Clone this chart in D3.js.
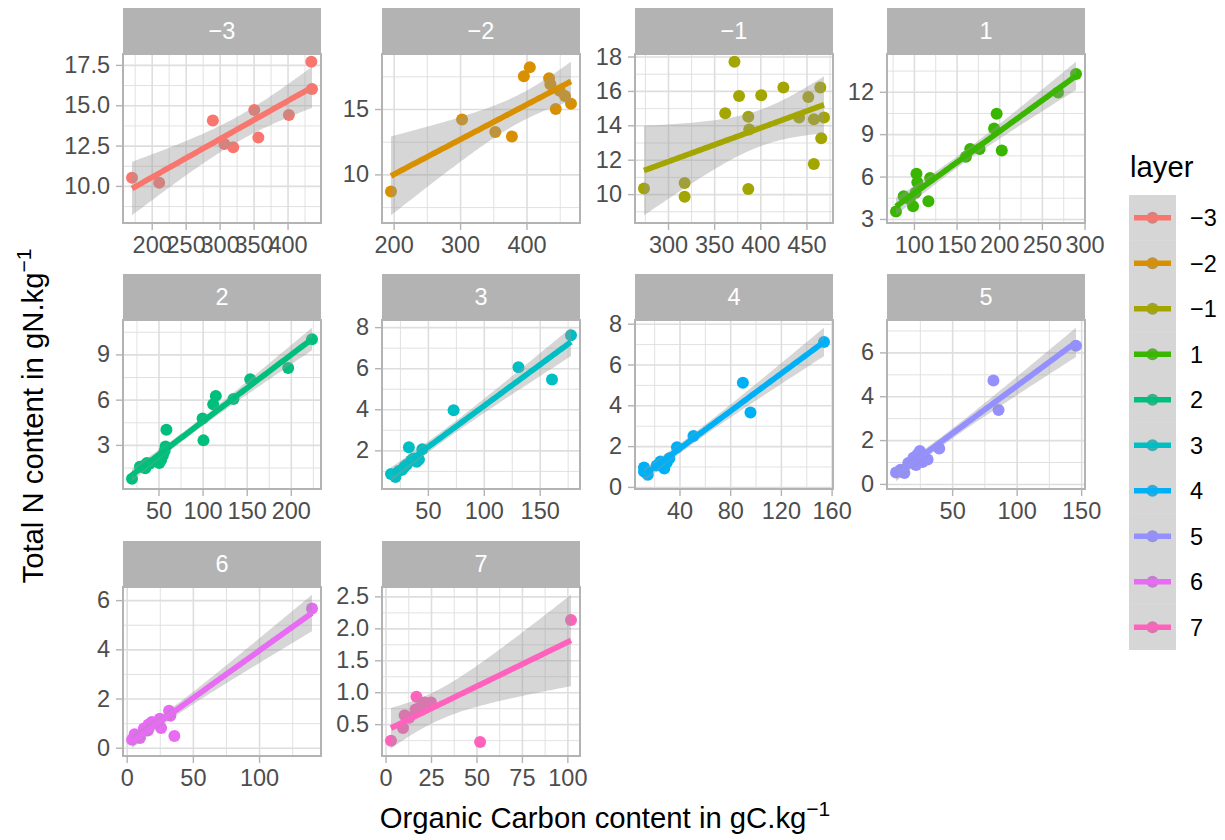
<!DOCTYPE html>
<html><head><meta charset="utf-8">
<script src="https://cdn.jsdelivr.net/npm/d3@7"></script>
<style>
body{margin:0;background:#fff;}
text{font-family:"Liberation Sans", Arial, Helvetica, sans-serif;}
</style>
</head><body>
<svg id="chart" width="1225" height="840"></svg>
<script>
// ---------------- data ----------------
const layers = ["\u22123","\u22122","\u22121","1","2","3","4","5","6","7"];
const colors = ["#F8766D","#D89000","#A3A500","#39B600","#00BF7D","#00BFC4","#00B0F6","#9590FF","#E76BF3","#FF62BC"];

const oc_m3 = [171, 211, 290, 307, 320, 351, 357, 402, 435, 436];
const tn_m3 = [10.5, 10.2, 14.05, 12.6, 12.4, 14.7, 13.0, 14.4, 17.7, 16.0];
const oc_m2 = [196, 303, 353, 378, 396, 405, 434, 436, 444, 450, 458, 467];
const tn_m2 = [8.7, 14.2, 13.25, 12.9, 17.5, 18.2, 17.35, 16.9, 15.0, 16.4, 16.0, 15.4];
const oc_m1 = [274, 318, 318, 362, 372, 377, 387, 388, 387, 401, 425, 442, 452, 458, 458, 465, 466, 469];
const tn_m1 = [10.33, 10.65, 9.85, 14.7, 17.7, 15.7, 14.5, 13.75, 10.3, 15.75, 16.2, 14.45, 15.65, 14.35, 11.75, 16.2, 13.25, 14.45];
const oc_p1 = [79, 88, 95, 99, 102, 103, 104, 117, 119, 161, 166, 177, 194, 197, 203, 269, 290];
const tn_p1 = [3.53, 4.6, 4.4, 3.9, 4.85, 6.2, 5.6, 4.25, 5.9, 7.4, 7.95, 7.95, 9.4, 10.45, 7.85, 11.95, 13.25];
const oc_p2 = [20, 29, 33, 35, 37, 40, 51, 53, 55, 57, 58, 59, 100, 101, 112, 115, 135, 154, 197, 224];
const tn_p2 = [0.75, 1.55, 1.6, 1.45, 1.8, 1.75, 1.8, 2.0, 2.3, 2.6, 2.9, 4.0, 4.75, 3.3, 5.7, 6.25, 6.05, 7.35, 8.1, 10.0];
const oc_p3 = [17, 21, 24, 27, 29, 31, 33, 35, 37, 40, 42, 45, 73, 131, 161, 178];
const tn_p3 = [0.85, 0.7, 1.0, 1.05, 1.2, 1.3, 2.15, 1.5, 1.6, 1.45, 1.55, 2.05, 3.95, 6.05, 5.45, 7.6];
const oc_p4 = [12, 12, 15, 22, 25, 27, 28, 30, 32, 38, 51, 90, 96, 154];
const tn_p4 = [0.95, 0.75, 0.6, 1.05, 1.25, 1.1, 0.9, 1.2, 1.4, 1.95, 2.5, 5.1, 3.65, 7.1];
const oc_p5 = [6.5, 10, 13, 16, 20, 22, 23, 25, 27, 28, 31, 40, 82, 86, 146];
const tn_p5 = [0.52, 0.65, 0.5, 0.95, 1.19, 0.86, 1.33, 1.5, 1.0, 1.19, 1.11, 1.62, 4.72, 3.37, 6.3];
const oc_p6 = [4, 6, 10, 13, 16, 16.5, 19, 25, 26, 32, 33, 36, 140];
const tn_p6 = [0.32, 0.55, 0.4, 0.78, 0.7, 0.94, 1.05, 1.18, 0.8, 1.5, 1.3, 0.48, 5.66];
const oc_p7 = [3, 9.6, 10.5, 13, 16.5, 17, 19, 21.5, 25, 52, 102];
const tn_p7 = [0.24, 0.44, 0.64, 0.6, 0.73, 0.93, 0.76, 0.84, 0.84, 0.22, 2.13];

const xTicks = [[200,250,300,350,400],[200,300,400],[300,350,400,450],[100,150,200,250,300],
                [50,100,150,200],[50,100,150],[40,80,120,160],[50,100,150],[0,50,100],[0,25,50,75,100]];
const yTicks = [[10,12.5,15,17.5],[10,15],[10,12,14,16,18],[3,6,9,12],[3,6,9],[2,4,6,8],
                [0,2,4,6,8],[0,2,4,6],[0,2,4,6],[0.5,1,1.5,2,2.5]];

const xTitle = "Organic Carbon content in gC.kg";
const yTitle = "Total N content in gN.kg";
const titleSup = "\u22121";
const legendTitle = "layer";

const ocData = [oc_m3, oc_m2, oc_m1, oc_p1, oc_p2, oc_p3, oc_p4, oc_p5, oc_p6, oc_p7];
const tnData = [tn_m3, tn_m2, tn_m1, tn_p1, tn_p2, tn_p3, tn_p4, tn_p5, tn_p6, tn_p7];

// ---------------- layout ----------------
const colX = [123, 382, 635, 887];
const rowY = [8, 274, 541];
const panelW = 198, stripH = 46, plotH = 169;
const fsAxis = 23.5, fsTitle = 29.3;
const gridCol = "#DEDEDE", borderCol = "#B3B3B3", textCol = "#4D4D4D";

const tQ = [NaN,12.706,4.303,3.182,2.776,2.571,2.447,2.365,2.306,2.262,2.228,2.201,2.179,2.160,2.145,2.131,2.120,2.110,2.101,2.093,2.086,2.080,2.074,2.069,2.064,2.060,2.056,2.052,2.048,2.045,2.042];

function lmBand(xs, ys) {
  const n = xs.length, mx = d3.mean(xs), my = d3.mean(ys);
  let sxx = 0, sxy = 0;
  for (let i = 0; i < n; i++) { sxx += (xs[i]-mx)**2; sxy += (xs[i]-mx)*(ys[i]-my); }
  const b = sxy / sxx, a = my - b * mx;
  let sse = 0;
  for (let i = 0; i < n; i++) sse += (ys[i] - a - b*xs[i])**2;
  const s = Math.sqrt(sse / (n - 2));
  const t = tQ[n - 2];
  const [x0, x1] = d3.extent(xs);
  return d3.range(80).map(i => {
    const x = x0 + (x1 - x0) * i / 79;
    const fit = a + b * x;
    const se = s * Math.sqrt(1/n + (x - mx)**2 / sxx);
    return {x, fit, lo: fit - t*se, hi: fit + t*se};
  });
}
function expand([lo, hi]) { const r = hi - lo; return [lo - 0.05*r, hi + 0.05*r]; }
function minors(ticks, dom) {
  const step = ticks[1] - ticks[0];
  const out = [];
  for (let v = ticks[0] - step/2; v <= ticks[ticks.length-1] + step/2 + 1e-9; v += step)
    if (v >= dom[0] && v <= dom[1]) out.push(v);
  return out;
}

const svg = d3.select("#chart");
svg.append("rect").attr("width", 1225).attr("height", 840).attr("fill", "#fff");

layers.forEach((lab, i) => {
  const col = i % 4, row = Math.floor(i / 4);
  const left = colX[col], top = rowY[row] + stripH;
  const xs = ocData[i], ys = tnData[i];
  const band = lmBand(xs, ys);
  const xDom = expand(d3.extent(xs));
  const yDom = expand([Math.min(d3.min(ys), d3.min(band, d => d.lo)), Math.max(d3.max(ys), d3.max(band, d => d.hi))]);
  const x = d3.scaleLinear().domain(xDom).range([left, left + panelW]);
  const y = d3.scaleLinear().domain(yDom).range([top + plotH, top]);
  const g = svg.append("g");
  const clipId = "clip" + i;
  g.append("clipPath").attr("id", clipId).append("rect")
    .attr("x", left).attr("y", top).attr("width", panelW).attr("height", plotH);

  // strip
  g.append("rect").attr("x", left).attr("y", rowY[row]).attr("width", panelW).attr("height", stripH).attr("fill", borderCol);
  g.append("text").attr("x", left + panelW/2).attr("y", rowY[row] + stripH/2 + 0.358*fsAxis)
    .attr("text-anchor", "middle").attr("fill", "#fff").attr("font-size", fsAxis).text(lab);

  // grids (minor then major) via axes
  const yFmt = yTicks[i].some(v => !Number.isInteger(v)) ? d3.format(".1f") : d3.format("d");
  const gridG = g.append("g").attr("clip-path", `url(#${clipId})`);
  gridG.append("g").attr("transform", `translate(0,${top + plotH})`)
    .call(d3.axisBottom(x).tickValues(minors(xTicks[i], xDom)).tickSize(-plotH).tickFormat(""))
    .call(s => { s.select(".domain").remove(); s.selectAll("line").attr("stroke", gridCol).attr("stroke-width", 0.9); });
  gridG.append("g").attr("transform", `translate(${left},0)`)
    .call(d3.axisLeft(y).tickValues(minors(yTicks[i], yDom)).tickSize(-panelW).tickFormat(""))
    .call(s => { s.select(".domain").remove(); s.selectAll("line").attr("stroke", gridCol).attr("stroke-width", 0.9); });
  gridG.append("g").attr("transform", `translate(0,${top + plotH})`)
    .call(d3.axisBottom(x).tickValues(xTicks[i]).tickSize(-plotH).tickFormat(""))
    .call(s => { s.select(".domain").remove(); s.selectAll("line").attr("stroke", gridCol).attr("stroke-width", 1.6); });
  gridG.append("g").attr("transform", `translate(${left},0)`)
    .call(d3.axisLeft(y).tickValues(yTicks[i]).tickSize(-panelW).tickFormat(""))
    .call(s => { s.select(".domain").remove(); s.selectAll("line").attr("stroke", gridCol).attr("stroke-width", 1.6); });

  // marks
  const marks = g.append("g").attr("clip-path", `url(#${clipId})`);
  marks.selectAll("circle").data(xs.map((v, k) => [v, ys[k]])).join("circle")
    .attr("cx", d => x(d[0])).attr("cy", d => y(d[1])).attr("r", 6).attr("fill", colors[i]);
  marks.append("path").datum(band)
    .attr("d", d3.area().x(d => x(d.x)).y0(d => y(d.lo)).y1(d => y(d.hi)))
    .attr("fill", "#999999").attr("fill-opacity", 0.4);
  marks.append("path").datum(band)
    .attr("d", d3.line().x(d => x(d.x)).y(d => y(d.fit)))
    .attr("fill", "none").attr("stroke", colors[i]).attr("stroke-width", 5.7);

  // border
  g.append("rect").attr("x", left).attr("y", top).attr("width", panelW).attr("height", plotH)
    .attr("fill", "none").attr("stroke", borderCol).attr("stroke-width", 2);

  // axes
  g.append("g").attr("transform", `translate(0,${top + plotH + 1})`)
    .call(d3.axisBottom(x).tickValues(xTicks[i]).tickSize(6).tickSizeOuter(0).tickPadding(6).tickFormat(d3.format("d")))
    .call(s => {
      s.select(".domain").remove();
      s.selectAll("line").attr("stroke", borderCol).attr("stroke-width", 1.4);
      s.selectAll("text").attr("fill", textCol).attr("font-size", fsAxis).attr("font-family", null);
    });
  g.append("g").attr("transform", `translate(${left - 1},0)`)
    .call(d3.axisLeft(y).tickValues(yTicks[i]).tickSize(6).tickSizeOuter(0).tickPadding(6).tickFormat(yFmt))
    .call(s => {
      s.select(".domain").remove();
      s.selectAll("line").attr("stroke", borderCol).attr("stroke-width", 1.4);
      s.selectAll("text").attr("fill", textCol).attr("font-size", fsAxis).attr("font-family", null);
    });
});

// axis titles
const xt = svg.append("text").attr("x", 605).attr("y", 828).attr("text-anchor", "middle")
  .attr("font-size", fsTitle).attr("fill", "#000");
xt.append("tspan").text(xTitle);
xt.append("tspan").attr("font-size", 21).attr("dy", -12).text(titleSup);

const yt = svg.append("text").attr("transform", "translate(43,416) rotate(-90)").attr("text-anchor", "middle")
  .attr("font-size", fsTitle).attr("fill", "#000");
yt.append("tspan").text(yTitle);
yt.append("tspan").attr("font-size", 21).attr("dy", -12).text(titleSup);

// legend
const lg = svg.append("g");
lg.append("text").attr("x", 1130).attr("y", 177).attr("font-size", fsTitle).attr("fill", "#000").text(legendTitle);
const keyTop = 195, keyH = 45.5, keyX = 1129, keyW = 47;
const keyY = d3.scaleBand().domain(layers).range([keyTop, keyTop + keyH * layers.length]);
layers.forEach((lab, i) => {
  const cy = keyY(lab) + keyY.bandwidth()/2;
  lg.append("circle").attr("cx", keyX + keyW/2).attr("cy", cy).attr("r", 6).attr("fill", colors[i]);
  lg.append("rect").attr("x", keyX).attr("y", keyY(lab)).attr("width", keyW).attr("height", keyY.bandwidth())
    .attr("fill", "#999999").attr("fill-opacity", 0.4);
  lg.append("line").attr("x1", keyX + 5).attr("x2", keyX + keyW - 5).attr("y1", cy).attr("y2", cy)
    .attr("stroke", colors[i]).attr("stroke-width", 5.7);
  lg.append("text").attr("x", 1190).attr("y", cy + 0.358*fsAxis).attr("font-size", fsAxis).attr("fill", "#000").text(lab);
});
</script>
</body></html>
